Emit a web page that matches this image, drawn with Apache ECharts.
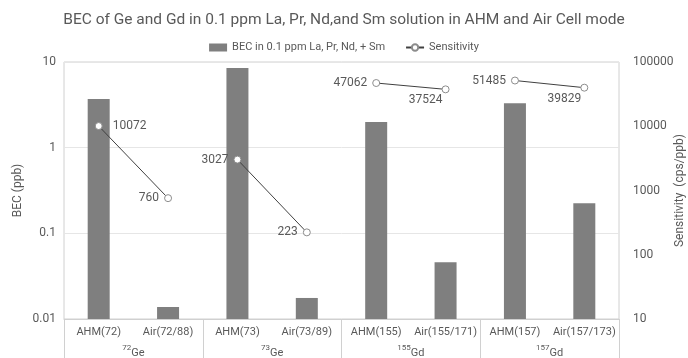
<!DOCTYPE html>
<html><head><meta charset="utf-8">
<script src="https://cdn.jsdelivr.net/npm/echarts@6/dist/echarts.min.js"></script>
<style>html,body{margin:0;padding:0;background:#fff}#c{width:688px;height:358px}</style>
</head><body><div id="c"></div>
<script>
const categories = ['AHM(72)','Air(72/88)','AHM(73)','Air(73/89)','AHM(155)','Air(155/171)','AHM(157)','Air(157/173)'];
const groupMass = ['72','73','155','157'];
const groupElem = ['Ge','Ge','Gd','Gd'];
const becValues = [3.7, 0.0138, 8.5, 0.0176, 2.0, 0.046, 3.3, 0.225];
const sensitivity = [10072, 760, 3027, 223, 47062, 37524, 51485, 39829];
const leftTicks = [0.01, 0.1, 1, 10];
const rightTicks = [10, 100, 1000, 10000, 100000];

const chart = echarts.init(document.getElementById('c'));
const txt = '#595959';
const font = 'Roboto';
const barColor = '#7f7f7f';
const leftMin = leftTicks[0], leftMax = leftTicks[leftTicks.length - 1];
const rightMin = rightTicks[0], rightMax = rightTicks[rightTicks.length - 1];
const labelPositions = ['right','left','left','left','left','bottom','left','bottom'];
const labelOffsets = [[5,0],[0,0],[0,0],[0,0],[0,0],[-20,-4],[0,0],[-20,-4]];

const lineSeries = [];
for (let g = 0; g < 4; g++) {
  lineSeries.push({
    name: 'Sensitivity', type: 'line', yAxisIndex: 1, xAxisIndex: 0,
    data: categories.map((c, i) => {
      if (Math.floor(i / 2) !== g) return '-';
      return { value: sensitivity[i], label: { position: labelPositions[i], offset: labelOffsets[i] } };
    }),
    symbol: 'circle', symbolSize: 7,
    lineStyle: { color: '#404040', width: 1 },
    itemStyle: { color: '#ffffff', borderColor: '#8c8c8c', borderWidth: 1 },
    label: { show: true, color: txt, fontFamily: font, fontSize: 12, distance: 5 },
    z: 5
  });
}

chart.setOption({
  animation: false,
  textStyle: { fontFamily: font },
  title: { text: 'BEC of Ge and Gd in 0.1 ppm La, Pr, Nd,and Sm solution in AHM and Air Cell mode', left: 'center', top: 7,
    textStyle: { color: txt, fontSize: 15.5, fontWeight: 'normal', fontFamily: font } },
  legend: { top: 37, left: 'center', itemGap: 20, itemWidth: 18, itemHeight: 8,
    textStyle: { color: txt, fontSize: 11, fontFamily: font },
    data: [{ name: 'BEC in 0.1 ppm La, Pr, Nd, + Sm', icon: 'rect', itemStyle: { color: barColor } }, { name: 'Sensitivity' }] },
  grid: { left: 64, right: 69, top: 62, bottom: 39, containLabel: false, outerBoundsMode: 'none',
    show: true, borderColor: '#d0d0d0', borderWidth: 1 },
  xAxis: [
    { type: 'category', data: categories, position: 'bottom',
      axisLine: { show: true, lineStyle: { color: '#d0d0d0' } }, axisTick: { show: false },
      axisLabel: { color: txt, fontSize: 11, fontFamily: font, margin: 8, interval: 0 } },
    { type: 'category', data: groupMass.map((m, i) => '{sup|' + m + '}{el|' + groupElem[i] + '}'), position: 'bottom',
      axisLine: { show: false }, axisTick: { show: true, length: 40, lineStyle: { color: '#d0d0d0' } },
      axisLabel: { margin: 25, interval: 0, rich: {
        sup: { fontSize: 8, color: txt, fontFamily: font, verticalAlign: 'bottom', padding: [0, 0, 7, 0] },
        el: { fontSize: 11, color: txt, fontFamily: font, verticalAlign: 'bottom' } } } }
  ],
  yAxis: [
    { type: 'log', logBase: 10, min: leftMin, max: leftMax, name: 'BEC (ppb)', nameLocation: 'middle', nameGap: 40,
      nameMoveOverlap: false,
      nameTextStyle: { color: txt, fontSize: 12, fontFamily: font },
      axisLine: { show: false }, axisTick: { show: false },
      axisLabel: { color: txt, fontSize: 12, fontFamily: font, margin: 8, formatter: v => String(+(+v).toPrecision(2)) },
      splitLine: { lineStyle: { color: '#e6e6e6' } } },
    { type: 'log', logBase: 10, min: rightMin, max: rightMax, name: 'Sensitivity  (cps/ppb)', nameLocation: 'middle', nameGap: 61,
      nameRotate: 90, nameMoveOverlap: false,
      nameTextStyle: { color: txt, fontSize: 12, fontFamily: font, align: 'center', verticalAlign: 'middle' },
      axisLine: { show: false }, axisTick: { show: false },
      axisLabel: { color: txt, fontSize: 12, fontFamily: font, margin: 14, align: 'left', formatter: v => String(Math.round(v)) },
      splitLine: { show: false } }
  ],
  series: [
    { name: 'BEC in 0.1 ppm La, Pr, Nd, + Sm', type: 'custom', xAxisIndex: 0, yAxisIndex: 0,
      data: becValues.map((v, i) => [i, v]), encode: { x: 0, y: 1 },
      itemStyle: { color: barColor }, z: 2,
      renderItem: function (params, api) {
        const i = api.value(0), v = api.value(1);
        const top = api.coord([i, v]);
        const bot = api.coord([i, leftMin]);
        const w = 22;
        return { type: 'rect', shape: { x: top[0] - w / 2, y: top[1], width: w, height: bot[1] - top[1] },
          style: { fill: barColor } };
      } }
  ].concat(lineSeries)
});
</script></body></html>
